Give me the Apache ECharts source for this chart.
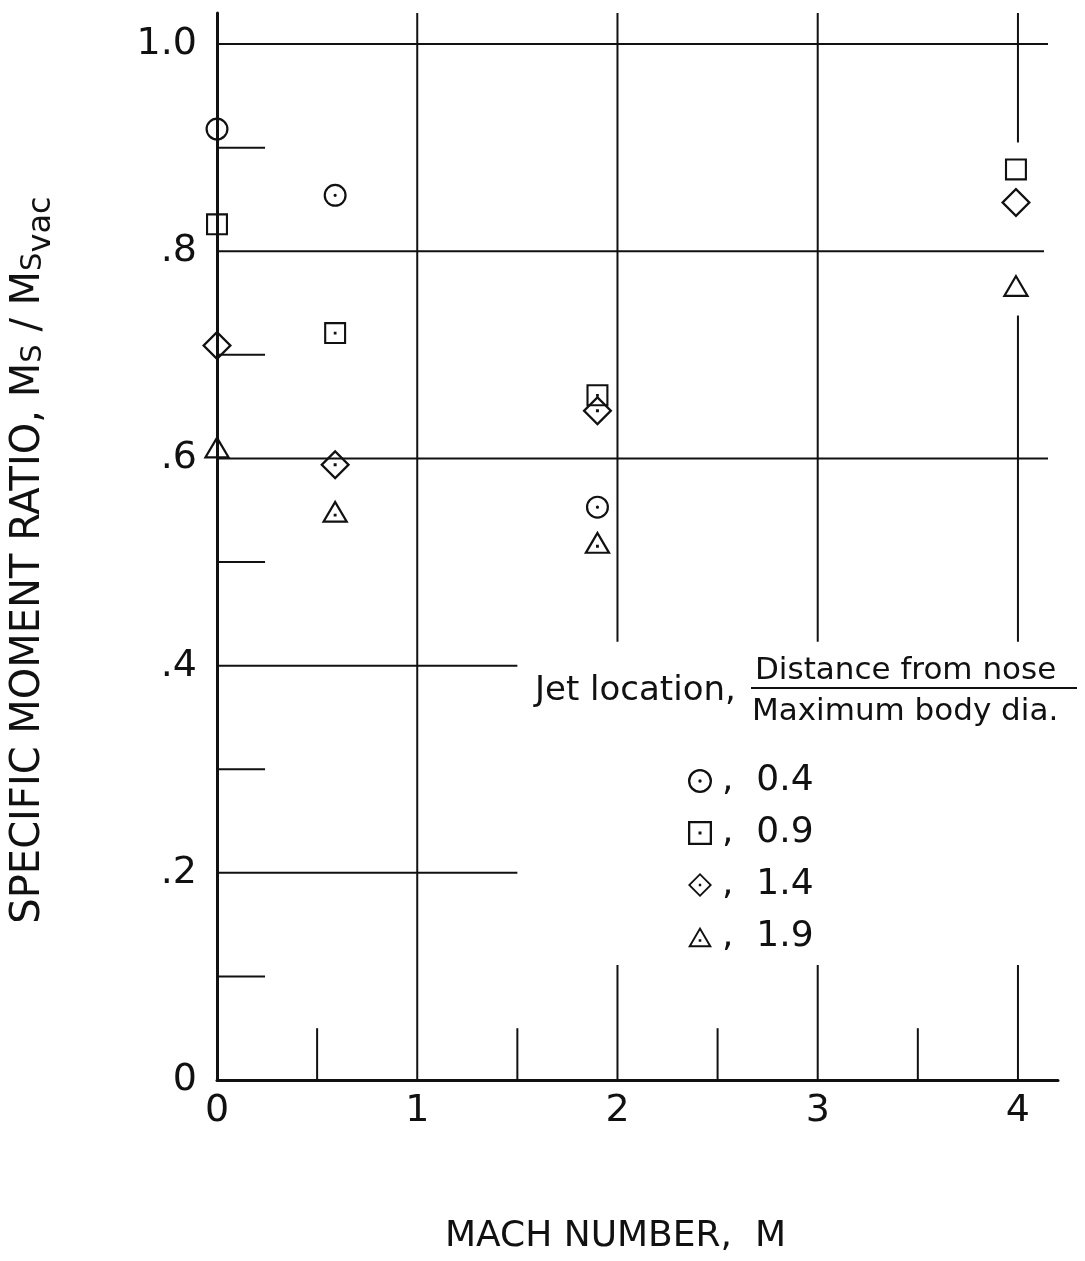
<!DOCTYPE html>
<html>
<head>
<meta charset="utf-8">
<script src="https://cdn.jsdelivr.net/npm/echarts@6/dist/echarts.min.js"></script>
<style>
html,body{margin:0;padding:0;background:#fff;}
#chart{width:1085px;height:1261px;}
</style>
</head>
<body>
<div id="chart"></div>
<script>
// ---- Data ----
const seriesNames = ['0.4', '0.9', '1.4', '1.9'];
const jet04 = [[0, 0.918], [0.59, 0.854], [1.90, 0.553]];
const jet09 = [[0, 0.826], [0.59, 0.721], [1.90, 0.661], [3.99, 0.879]];
const jet14 = [[0, 0.709], [0.59, 0.594], [1.90, 0.646], [3.99, 0.847]];
const jet19 = [[0, 0.611], [0.59, 0.549], [1.90, 0.519], [3.99, 0.767]];

const xTickValues = [0, 1, 2, 3, 4];
const xTickLabels = ['0', '1', '2', '3', '4'];
const yTickValues = [0, 0.2, 0.4, 0.6, 0.8, 1.0];
const yTickLabels = ['0', '.2', '.4', '.6', '.8', '1.0'];

// Mach numbers where the plotted symbols have no centre dot
const openSymbolMach = [0, 3.99];

// Drawn grid segments of the original sheet, in data units [x1, y1, x2, y2]
const gridSegments = [
  [0, 1.0, 4.15, 1.0], [0, 0.8, 4.13, 0.8], [0, 0.6, 4.15, 0.6],
  [0, 0.4, 1.5, 0.4], [0, 0.2, 1.5, 0.2],
  [0, 0.9, 0.24, 0.9], [0, 0.7, 0.24, 0.7], [0, 0.5, 0.24, 0.5], [0, 0.3, 0.24, 0.3], [0, 0.1, 0.24, 0.1],
  [1, 0, 1, 1.03],
  [2, 0.423, 2, 1.03], [2, 0, 2, 0.111],
  [3, 0.423, 3, 1.03], [3, 0, 3, 0.111],
  [4, 0.905, 4, 1.03], [4, 0.423, 4, 0.738], [4, 0, 4, 0.111],
  [0.5, 0, 0.5, 0.05], [1.5, 0, 1.5, 0.05], [2.5, 0, 2.5, 0.05], [3.5, 0, 3.5, 0.05]
];

// ---- Symbols (outline drawn as filled ring, optional centre dot) ----
const circleOpen = 'path://M24,12A12,12,0,1,0,0,12A12,12,0,1,0,24,12Z M21.7,12A9.7,9.7,0,1,1,2.3,12A9.7,9.7,0,1,1,21.7,12Z';
const circleDot = circleOpen + ' M13.7,12A1.7,1.7,0,1,0,10.3,12A1.7,1.7,0,1,0,13.7,12Z';
const squareOpen = 'path://M0,0L24,0L24,24L0,24Z M2.3,2.3L2.3,21.7L21.7,21.7L21.7,2.3Z';
const squareDot = squareOpen + ' M10.5,10.5L13.5,10.5L13.5,13.5L10.5,13.5Z';
const diamondOpen = 'path://M15,0L30,15L15,30L0,15Z M15,3.25L3.25,15L15,26.75L26.75,15Z';
const diamondDot = diamondOpen + ' M13.5,13.5L16.5,13.5L16.5,16.5L13.5,16.5Z';
const triOpen = 'path://M14,0L28,24L0,24Z M14,4.56L4,21.7L24,21.7Z';
const triDot = triOpen + ' M12.5,14.5L15.5,14.5L15.5,17.5L12.5,17.5Z';

const FAM = "'DejaVu Sans', 'Liberation Sans', sans-serif";
const INK = '#111';

function pick(values, labels, v) {
  const i = values.findIndex(t => Math.abs(t - v) < 1e-9);
  return i < 0 ? '' : labels[i];
}
function symFn(open, dotted) {
  return function (val) {
    return openSymbolMach.some(m => Math.abs(m - val[0]) < 1e-9) ? open : dotted;
  };
}

// ---- Rotated y-axis title with subscripts (text pieces laid out along the line) ----
const yTitlePieces = [
  { text: 'SPECIFIC MOMENT RATIO, M', size: 40, dy: 0 },
  { text: 'S', size: 29, dy: 4 },
  { text: ' / M', size: 40, dy: 0 },
  { text: 'S', size: 29, dy: 4 },
  { text: 'vac', size: 32, dy: 13 }
];
const measureCtx = document.createElement('canvas').getContext('2d');
function textWidth(t, size) {
  measureCtx.font = size + "px 'DejaVu Sans', 'Liberation Sans', sans-serif";
  return measureCtx.measureText(t).width;
}
const yTitleTotal = yTitlePieces.reduce((s, p) => s + textWidth(p.text, p.size), 0);
let cursor = -yTitleTotal / 2;
const yTitleChildren = yTitlePieces.map(p => {
  const el = {
    type: 'text', x: cursor, y: p.dy,
    style: { text: p.text, font: p.size + "px " + FAM, fill: INK,
             align: 'left', verticalAlign: 'middle', textAlign: 'left', textVerticalAlign: 'middle' }
  };
  cursor += textWidth(p.text, p.size);
  return el;
});

const chart = echarts.init(document.getElementById('chart'), null, { renderer: 'canvas' });

const option = {
  backgroundColor: '#fff',
  animation: false,
  grid: { left: 217, right: 27, top: 13, bottom: 181, containLabel: false, outerBoundsMode: 'none' },
  xAxis: {
    type: 'value', min: 0, max: 4.2, interval: 1,
    axisLine: { show: true, onZero: false, lineStyle: { color: INK, width: 3 } },
    axisTick: { show: false },
    splitLine: { show: false },
    axisLabel: {
      show: true, margin: 12, color: INK, fontFamily: FAM, fontSize: 38,
      customValues: xTickValues,
      formatter: v => pick(xTickValues, xTickLabels, v)
    },
    name: 'MACH NUMBER,  M',
    nameLocation: 'middle', nameGap: 139,
    nameTextStyle: { color: INK, fontFamily: FAM, fontSize: 36, padding: [0, 44, 0, 0] }
  },
  yAxis: {
    type: 'value', min: 0, max: 1.03, interval: 0.2,
    axisLine: { show: true, onZero: false, lineStyle: { color: INK, width: 3 } },
    axisTick: { show: false },
    splitLine: { show: false },
    axisLabel: {
      show: true, margin: 20, color: INK, fontFamily: FAM, fontSize: 38,
      customValues: yTickValues,
      formatter: v => pick(yTickValues, yTickLabels, v)
    }
  },
  legend: {
    show: true, orient: 'vertical', left: 683, top: 758,
    itemWidth: 24, itemHeight: 24, itemGap: 16, selectedMode: false,
    formatter: name => ',  ' + name,
    textStyle: { color: INK, fontFamily: FAM, fontSize: 36, padding: [0, 0, 0, 5] },
    data: [
      { name: '0.4', icon: circleDot },
      { name: '0.9', icon: squareDot },
      { name: '1.4', icon: diamondDot },
      { name: '1.9', icon: triDot }
    ]
  },
  graphic: [
    { type: 'group', x: 29, y: 560, rotation: Math.PI / 2, children: yTitleChildren },
    { type: 'text', x: 535, y: 691, z: 10,
      style: { text: 'Jet location,', font: '34px ' + FAM, fill: INK, verticalAlign: 'middle', textVerticalAlign: 'middle' } },
    { type: 'text', x: 755, y: 671, z: 10,
      style: { text: 'Distance from nose', font: '31px ' + FAM, fill: INK, verticalAlign: 'middle', textVerticalAlign: 'middle' } },
    { type: 'line', z: 10, shape: { x1: 751, y1: 688, x2: 1077, y2: 688 }, style: { stroke: INK, lineWidth: 2 } },
    { type: 'text', x: 752, y: 712, z: 10,
      style: { text: 'Maximum body dia.', font: '31px ' + FAM, fill: INK, verticalAlign: 'middle', textVerticalAlign: 'middle' } }
  ],
  series: [
    {
      type: 'custom', name: 'grid', silent: true, clip: false, z: 1,
      encode: { x: [0, 2], y: [1, 3] },
      data: gridSegments,
      renderItem: function (params, api) {
        const p1 = api.coord([api.value(0), api.value(1)]);
        const p2 = api.coord([api.value(2), api.value(3)]);
        return { type: 'line', shape: { x1: p1[0], y1: p1[1], x2: p2[0], y2: p2[1] },
                 style: { stroke: INK, lineWidth: 2 } };
      }
    },
    { type: 'scatter', name: seriesNames[0], data: jet04, clip: false, z: 5,
      symbol: symFn(circleOpen, circleDot), symbolSize: [23, 23], itemStyle: { color: INK, opacity: 1 } },
    { type: 'scatter', name: seriesNames[1], data: jet09, clip: false, z: 5,
      symbol: symFn(squareOpen, squareDot), symbolSize: [22, 22], itemStyle: { color: INK, opacity: 1 } },
    { type: 'scatter', name: seriesNames[2], data: jet14, clip: false, z: 5,
      symbol: symFn(diamondOpen, diamondDot), symbolSize: [30, 30], itemStyle: { color: INK, opacity: 1 } },
    { type: 'scatter', name: seriesNames[3], data: jet19, clip: false, z: 5,
      symbol: symFn(triOpen, triDot), symbolSize: [27, 23], itemStyle: { color: INK, opacity: 1 } }
  ]
};
chart.setOption(option);
</script>
</body>
</html>
